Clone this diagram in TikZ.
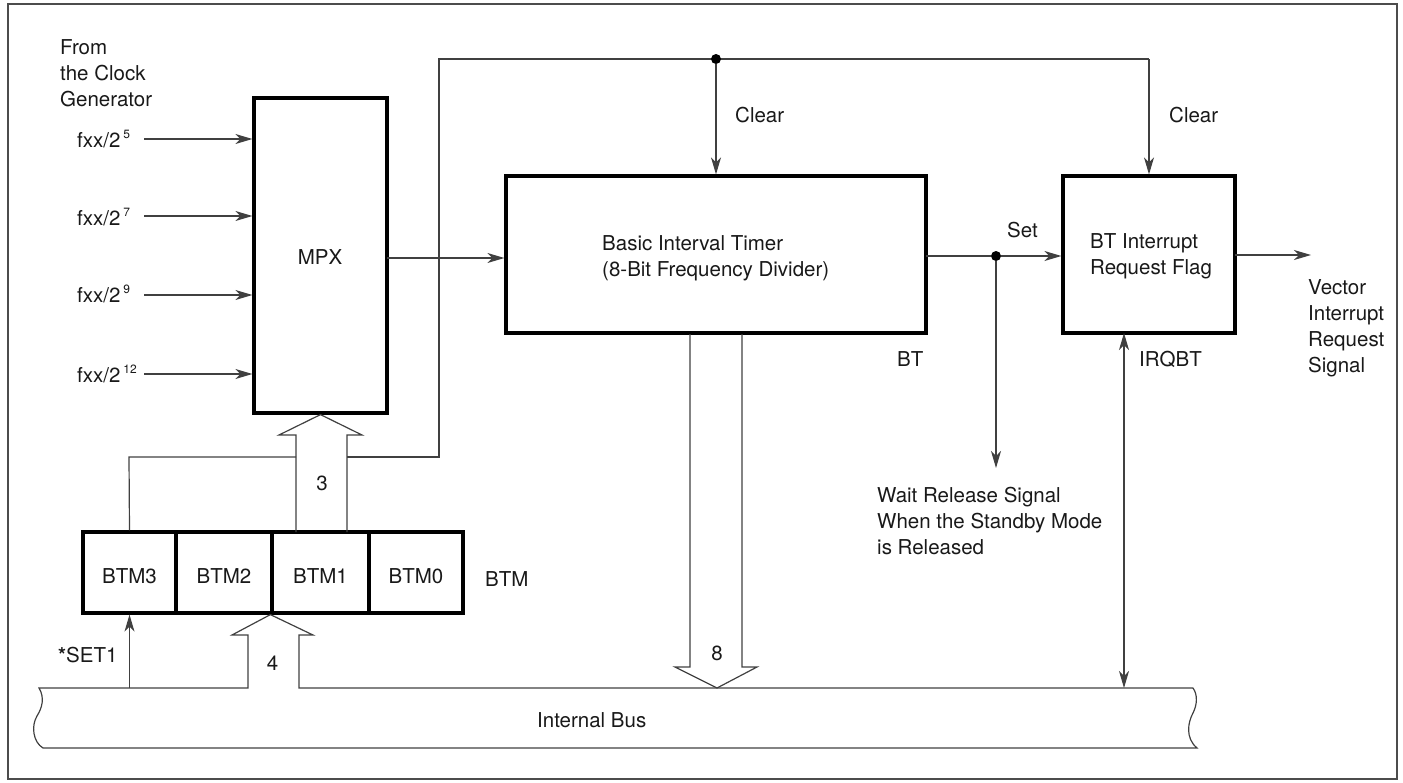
\documentclass[tikz,border=0pt]{standalone}
\usepackage{fontspec}
\setmainfont{TeX Gyre Heros}
\usetikzlibrary{arrows.meta}
\newcommand{\fxsup}[1]{fxx/2\kern3pt\raisebox{9pt}{\fontsize{12}{12}\selectfont #1}}
\begin{document}
\begin{tikzpicture}[x=1pt,y=-1pt,
  every node/.style={font=\fontsize{20.5}{26}\selectfont, inner sep=0pt, text=black!90},
  thinline/.style={line width=1.2pt, draw=black!75},
  thickbox/.style={draw=black, line width=3.2pt, fill=white},
  arr/.style={thinline, -{Stealth[length=17pt,width=10pt,inset=5pt]}},
  darr/.style={thinline, {Stealth[length=17pt,width=10pt,inset=5pt]}-{Stealth[length=17pt,width=10pt,inset=5pt]}},
  hollow/.style={line width=1.2pt, draw=black!75, line join=miter},
  dot/.style={circle, fill=black, inner sep=0pt, minimum size=10pt},
  lbl/.style={anchor=base west},
  blk/.style={anchor=north west, align=left},
]
\useasboundingbox (0,0) rectangle (1403,782);
\draw[line width=1.2pt, draw=black!70] (8,4) rectangle (1397,779);

% main blocks
\node[thickbox, minimum width=133pt, minimum height=315pt] (mpx) at (320.5,255.5) {};
\node[anchor=base] (mpxt) at (320,264) {MPX};
\node[thickbox, minimum width=420pt, minimum height=157pt] (bit) at (716,254.5) {};
\node[blk] (bitt) at (602,235) {Basic Interval Timer\\(8-Bit Frequency Divider)};
\node[thickbox, minimum width=172pt, minimum height=157pt] (flag) at (1149,254.5) {};
\node[blk] (flagt) at (1090,233) {BT Interrupt\\Request Flag};

% BTM register
\node[thickbox, minimum width=93pt, minimum height=81pt] (btm3) at (129.5,572.5) {};
\node[thickbox, minimum width=96pt, minimum height=81pt] (btm2) at (224,572.5) {};
\node[thickbox, minimum width=97pt, minimum height=81pt] (btm1) at (320.5,572.5) {};
\node[thickbox, minimum width=94pt, minimum height=81pt] (btm0) at (416,572.5) {};
\node[anchor=base] (t3) at (129.5,583) {BTM3};
\node[anchor=base] (t2) at (224,583) {BTM2};
\node[anchor=base] (t1) at (320.5,583) {BTM1};
\node[anchor=base] (t0) at (416,583) {BTM0};
\node[lbl] (btml) at (485,586) {BTM};

% clock inputs
\node[blk] (from) at (60,39) {From\\the Clock\\Generator};
\node[lbl] (f5) at (77,147) {\fxsup{5}};
\node[lbl] (f7) at (77,225) {\fxsup{7}};
\node[lbl] (f9) at (77,302) {\fxsup{9}};
\node[lbl] (f12) at (77,382) {\fxsup{12}};
\coordinate (s5) at (144,139);
\coordinate (s7) at (144,216);
\coordinate (s9) at (144,295);
\coordinate (s12) at (144,374);
\draw[arr] (s5) -- (s5 -| mpx.west);
\draw[arr] (s7) -- (s7 -| mpx.west);
\draw[arr] (s9) -- (s9 -| mpx.west);
\draw[arr] (s12) -- (s12 -| mpx.west);

% MPX -> BIT
\coordinate (m1) at (387,258);
\draw[arr] (m1) -- (m1 -| bit.west);

% clear loop
\coordinate (la) at (129,457);
\coordinate (lb) at (296,457);
\coordinate (lc) at (347,457);
\coordinate (ld) at (439,457);
\coordinate (le) at (439,59);
\draw[thinline] (btm3.north) -- (la) -- (lb);
\draw[thinline] (lc) -- (ld) -- (le) -- (le -| flag.north);
\draw[arr] (le -| flag.north) -- (flag.north);
\node[dot] (d1) at (le -| bit.north) {};
\draw[arr] (d1) -- (bit.north);
\node[lbl] (clr1) at (735,122) {Clear};
\node[lbl] (clr2) at (1169,122) {Clear};

% hollow arrow 3 (BTM -> MPX)
\draw[hollow] (296,532) -- (296,435) -- (279,435) -- (mpx.south) -- (362,435) -- (347,435) -- (347,532);
\node[anchor=base] (n3) at (322,490) {3};

% bus with hollow arrow 4
\draw[hollow] (1193,688) -- (299,688) -- (299,635) -- (313,635) -- (btm1.south west) -- (232,635) -- (248,635) -- (248,688) -- (39,688)
  .. controls (45,698) and (42,708) .. (37,716)
  .. controls (31,726) and (33,742) .. (43,748)
  -- (1197,748)
  .. controls (1185,738) and (1188,722) .. (1193,713)
  .. controls (1197,705) and (1198,695) .. (1193,688);
\node[anchor=base] (n4) at (272.5,670) {4};
\node[lbl] (bus) at (537,727) {Internal Bus};

% SET1
\coordinate (sb) at (129.5,688);
\draw[arr] (sb) -- (btm3.south);
\node[lbl] (set1) at (58,662) {{\bfseries *}SET1};

% hollow arrow 8 (BIT -> bus)
\draw[hollow] (690,334) -- (690,667) -- (675,667) -- (717,688) -- (757,667) -- (742,667) -- (742,334);
\node[anchor=base] (n8) at (717,660) {8};

% BIT -> flag, set
\coordinate (b1) at (926,256);
\node[dot] (d2) at (996,256) {};
\draw[thinline] (b1) -- (d2);
\draw[arr] (d2) -- (d2 -| flag.west);
\coordinate (w1) at (996,468);
\draw[arr] (d2) -- (w1);
\node[lbl] (setl) at (1007,237) {Set};
\node[lbl] (btl) at (897,366) {BT};
\node[blk] (wait) at (877,487) {Wait Release Signal\\When the Standby Mode\\is Released};

% IRQBT
\coordinate (q1) at (1124,333);
\coordinate (q2) at (1124,688);
\draw[darr] (q2) -- (q1);
\node[lbl] (irq) at (1139,366) {IRQBT};

% output
\coordinate (o1) at (1235,255);
\coordinate (o2) at (1311,255);
\draw[arr] (o1) -- (o2);
\node[blk] (vec) at (1308,279) {Vector\\Interrupt\\Request\\Signal};
\end{tikzpicture}
\end{document}
